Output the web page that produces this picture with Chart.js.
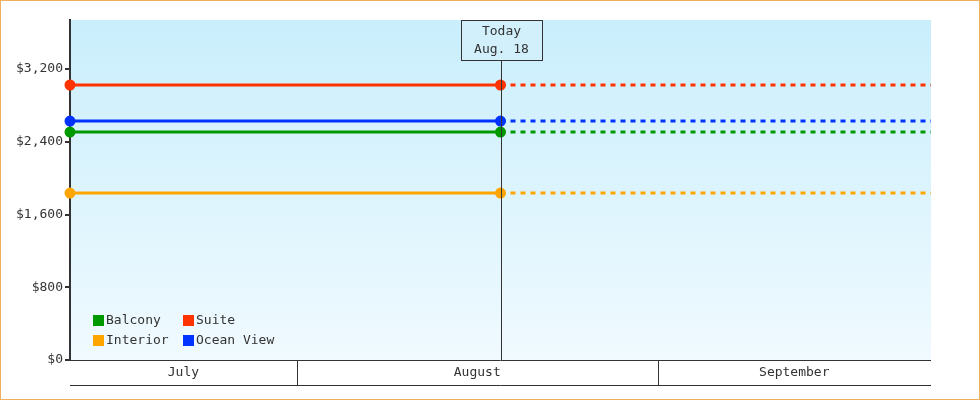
<!DOCTYPE html>
<html>
<head>
<meta charset="utf-8">
<script src="https://cdn.jsdelivr.net/npm/chart.js@4/dist/chart.umd.min.js"></script>
<style>
    body { margin: 0; background: #fff; }
    canvas { display: block; }
</style>
</head>
<body>
<canvas id="chart" width="980" height="400"></canvas>
<script>
// x values are day numbers counted from July 1 (= 0)
const seriesNames = ['Balcony', 'Suite', 'Interior', 'Ocean View']
const seriesColors = ['#009900', '#ff3300', '#ffa500', '#0033ff']
const prices = [2507, 3025, 1836, 2628]
const startDay = 11.5
const todayDay = 48.5
const endDay = 85.5
const months = ['July', 'August', 'September']
const monthStarts = [0, 31, 62, 92]
const yTicks = [0, 800, 1600, 2400, 3200]
const todayLabel = ['Today', 'Aug. 18']

const font = '13px "DejaVu Sans Mono", monospace'

const datasets = seriesNames.map((name, i) => ({
    label: name,
    data: [
        { x: startDay, y: prices[i] },
        { x: todayDay, y: prices[i] },
        { x: endDay, y: prices[i] }
    ],
    borderColor: seriesColors[i],
    backgroundColor: seriesColors[i],
    borderWidth: 3,
    pointRadius: ctx => ctx.dataIndex < 2 ? 4 : 0,
    pointHoverRadius: 0,
    segment: {
        borderDash: ctx => ctx.p0.parsed.x >= todayDay ? [5, 5] : undefined
    },
    clip: false
}))

const decorations = {
    id: 'decorations',
    beforeDraw(chart) {
        const { ctx, chartArea: a } = chart
        const g = ctx.createLinearGradient(0, a.top, 0, a.bottom)
        g.addColorStop(0, '#c9eefc')
        g.addColorStop(1, '#f0faff')
        ctx.fillStyle = g
        ctx.fillRect(a.left, a.top, a.right - a.left, a.bottom - a.top)
    },
    afterDatasetsDraw(chart) {
        const { ctx, chartArea: a, scales: { x } } = chart
        ctx.save()
        // today line and box
        const tx = Math.round(x.getPixelForValue(todayDay)) + 0.5
        ctx.strokeStyle = '#333'
        ctx.lineWidth = 1
        ctx.beginPath()
        ctx.moveTo(tx, a.top + 40)
        ctx.lineTo(tx, a.bottom)
        ctx.stroke()
        ctx.fillStyle = '#d2f0fc'
        ctx.fillRect(tx - 40, a.top, 81, 40)
        ctx.strokeRect(tx - 40, a.top + 0.5, 81, 40)
        ctx.fillStyle = '#333'
        ctx.font = font
        ctx.textAlign = 'center'
        ctx.textBaseline = 'middle'
        ctx.fillText(todayLabel[0], tx, a.top + 12)
        ctx.fillText(todayLabel[1], tx, a.top + 30)

        // month band axis
        const y0 = a.bottom + 0.5, y1 = a.bottom + 25.5
        ctx.beginPath()
        ctx.moveTo(a.left, y1); ctx.lineTo(a.right, y1)
        ctx.moveTo(a.left, y0); ctx.lineTo(a.right, y0)
        ctx.stroke()
        months.forEach((m, i) => {
            const l = Math.max(a.left, x.getPixelForValue(monthStarts[i]))
            const r = Math.min(a.right, x.getPixelForValue(monthStarts[i + 1]))
            if (i > 0) {
                ctx.beginPath()
                ctx.moveTo(Math.round(l) + 0.5, y0); ctx.lineTo(Math.round(l) + 0.5, y1)
                ctx.stroke()
            }
            ctx.fillText(m, (l + r) / 2, a.bottom + 13)
        })

        // legend
        ctx.textAlign = 'left'
        seriesNames.forEach((name, i) => {
            const lx = a.left + 23 + (i % 2) * 90
            const ly = a.bottom - 40 + Math.floor(i / 2) * 20
            ctx.fillStyle = seriesColors[i]
            ctx.fillRect(lx, ly - 5, 11, 11)
            ctx.fillStyle = '#333'
            ctx.fillText(name, lx + 13, ly + 1)
        })

        // outer border
        ctx.strokeStyle = '#f0b060'
        ctx.strokeRect(0.5, 0.5, chart.width - 1, chart.height - 1)
        ctx.restore()
    }
}

new Chart(document.getElementById('chart').getContext('2d'), {
    type: 'line',
    data: { datasets },
    options: {
        responsive: false,
        animation: false,
        layout: { padding: { left: 0, top: 20, right: 49, bottom: 40 } },
        plugins: { legend: { display: false }, tooltip: { enabled: false } },
        scales: {
            x: { type: 'linear', min: startDay, max: endDay, display: false },
            y: {
                min: 0,
                max: 3740,
                afterFit: s => { s.width = 70 },
                afterBuildTicks: s => { s.ticks = yTicks.map(v => ({ value: v })) },
                border: { color: '#333', width: 2 },
                grid: { drawOnChartArea: false, color: '#333', tickLength: 5, lineWidth: 2 },
                ticks: {
                    color: '#333',
                    font: { family: '"DejaVu Sans Mono", monospace', size: 13 },
                    padding: 2,
                    callback: v => '$' + v.toLocaleString('en-US')
                }
            }
        }
    },
    plugins: [decorations]
})
</script>
</body>
</html>
